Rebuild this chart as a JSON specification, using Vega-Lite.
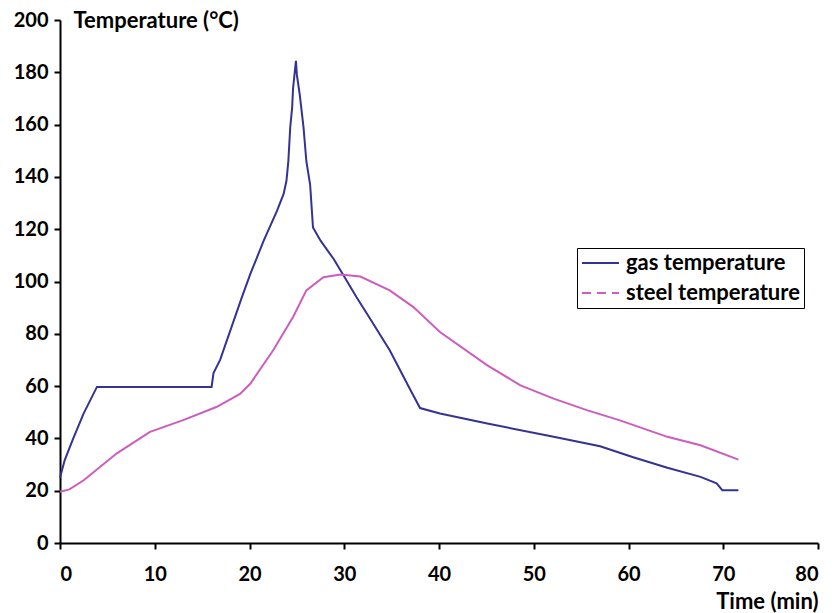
{
  "$schema": "https://vega.github.io/schema/vega-lite/v6.json",
  "width": 758,
  "height": 523,
  "autosize": {"type": "none"},
  "padding": {"left": 60, "top": 20, "right": 19, "bottom": 70},
  "background": "white",
  "config": {
    "view": {"stroke": null},
    "font": "Lato",
    "axis": {
      "grid": false,
      "domainColor": "black",
      "domainWidth": 2,
      "tickColor": "black",
      "tickWidth": 2,
      "tickSize": 6,
      "labelFont": "Lato",
      "labelFontWeight": "bold",
      "labelFontSize": 20,
      "labelColor": "black",
      "titleFont": "Lato",
      "titleFontWeight": "bold",
      "titleFontSize": 22,
      "titleColor": "black"
    }
  },
  "data": {
    "values": [
      {"series": "gas temperature", "time": 0, "temp": 25},
      {"series": "gas temperature", "time": 0.5, "temp": 31.7},
      {"series": "gas temperature", "time": 1.4, "temp": 40},
      {"series": "gas temperature", "time": 2.5, "temp": 49.6},
      {"series": "gas temperature", "time": 3.9, "temp": 59.7},
      {"series": "gas temperature", "time": 16, "temp": 59.7},
      {"series": "gas temperature", "time": 16.2, "temp": 65},
      {"series": "gas temperature", "time": 16.9, "temp": 70},
      {"series": "gas temperature", "time": 19.2, "temp": 94},
      {"series": "gas temperature", "time": 20.1, "temp": 103},
      {"series": "gas temperature", "time": 21.5, "temp": 115.6},
      {"series": "gas temperature", "time": 22.9, "temp": 127},
      {"series": "gas temperature", "time": 23.6, "temp": 133.5},
      {"series": "gas temperature", "time": 23.9, "temp": 138.5},
      {"series": "gas temperature", "time": 24.1, "temp": 146},
      {"series": "gas temperature", "time": 24.3, "temp": 159},
      {"series": "gas temperature", "time": 24.5, "temp": 166.5},
      {"series": "gas temperature", "time": 24.6, "temp": 174},
      {"series": "gas temperature", "time": 24.9, "temp": 184.4},
      {"series": "gas temperature", "time": 25, "temp": 179},
      {"series": "gas temperature", "time": 25.3, "temp": 171.6},
      {"series": "gas temperature", "time": 25.7, "temp": 159},
      {"series": "gas temperature", "time": 26, "temp": 146},
      {"series": "gas temperature", "time": 26.4, "temp": 137},
      {"series": "gas temperature", "time": 26.7, "temp": 120.7},
      {"series": "gas temperature", "time": 27.5, "temp": 115.6},
      {"series": "gas temperature", "time": 28.9, "temp": 108.5},
      {"series": "gas temperature", "time": 29.9, "temp": 102.5},
      {"series": "gas temperature", "time": 31.3, "temp": 94},
      {"series": "gas temperature", "time": 32.4, "temp": 87.7},
      {"series": "gas temperature", "time": 34.8, "temp": 73.7},
      {"series": "gas temperature", "time": 37, "temp": 58.4},
      {"series": "gas temperature", "time": 38, "temp": 51.6},
      {"series": "gas temperature", "time": 40.1, "temp": 49.5},
      {"series": "gas temperature", "time": 45.1, "temp": 45.7},
      {"series": "gas temperature", "time": 52.1, "temp": 40.6},
      {"series": "gas temperature", "time": 57, "temp": 37},
      {"series": "gas temperature", "time": 60.5, "temp": 32.8},
      {"series": "gas temperature", "time": 64.1, "temp": 28.8},
      {"series": "gas temperature", "time": 67.6, "temp": 25.3},
      {"series": "gas temperature", "time": 69.3, "temp": 22.8},
      {"series": "gas temperature", "time": 69.9, "temp": 20.2},
      {"series": "gas temperature", "time": 71.6, "temp": 20.2},
      {"series": "steel temperature", "time": 0, "temp": 19.6},
      {"series": "steel temperature", "time": 1, "temp": 20.5},
      {"series": "steel temperature", "time": 2.5, "temp": 24},
      {"series": "steel temperature", "time": 6, "temp": 34.3},
      {"series": "steel temperature", "time": 9.5, "temp": 42.5},
      {"series": "steel temperature", "time": 13, "temp": 47},
      {"series": "steel temperature", "time": 16.5, "temp": 52},
      {"series": "steel temperature", "time": 19, "temp": 57},
      {"series": "steel temperature", "time": 20.1, "temp": 61},
      {"series": "steel temperature", "time": 22.5, "temp": 73.7},
      {"series": "steel temperature", "time": 24.6, "temp": 86.4},
      {"series": "steel temperature", "time": 26, "temp": 96.6},
      {"series": "steel temperature", "time": 27.8, "temp": 101.6},
      {"series": "steel temperature", "time": 29.6, "temp": 102.7},
      {"series": "steel temperature", "time": 31.7, "temp": 101.9},
      {"series": "steel temperature", "time": 34.8, "temp": 96.6},
      {"series": "steel temperature", "time": 37.3, "temp": 90.2},
      {"series": "steel temperature", "time": 40.1, "temp": 80.7},
      {"series": "steel temperature", "time": 45.1, "temp": 67.9},
      {"series": "steel temperature", "time": 48.6, "temp": 60.3},
      {"series": "steel temperature", "time": 52.1, "temp": 55.2},
      {"series": "steel temperature", "time": 55.6, "temp": 50.8},
      {"series": "steel temperature", "time": 59.1, "temp": 46.9},
      {"series": "steel temperature", "time": 64.1, "temp": 40.6},
      {"series": "steel temperature", "time": 67.6, "temp": 37.4},
      {"series": "steel temperature", "time": 71.6, "temp": 31.9}
    ]
  },
  "mark": {"type": "line", "strokeWidth": 2, "interpolate": "linear"},
  "encoding": {
    "x": {
      "field": "time", "type": "quantitative",
      "scale": {"domain": [0, 80], "nice": false, "zero": false},
      "axis": {
        "values": [0, 10, 20, 30, 40, 50, 60, 70, 80],
        "title": "Time (min)",
        "labelPadding": 15,
        "titleAnchor": "end",
        "titleAlign": "right",
        "titleX": 758,
        "titleY": 58,
        "titleBaseline": "middle"
      }
    },
    "y": {
      "field": "temp", "type": "quantitative",
      "scale": {"domain": [0, 200], "nice": false},
      "axis": {
        "values": [0, 20, 40, 60, 80, 100, 120, 140, 160, 180, 200],
        "title": "Temperature (°C)",
        "labelPadding": 6,
        "titleAngle": 0,
        "titleAlign": "left",
        "titleAnchor": "start",
        "titleX": 13,
        "titleY": 0,
        "titleBaseline": "middle"
      }
    },
    "color": {
      "field": "series", "type": "nominal",
      "scale": {"domain": ["gas temperature", "steel temperature"], "range": ["#333391", "#CC5DBE"]},
      "legend": {
        "title": null,
        "orient": "none",
        "legendX": 517,
        "legendY": 228,
        "strokeColor": "black",
        "fillColor": "white",
        "padding": 4,
        "symbolType": "M-1,0H2.7",
        "symbolSize": 400,
        "symbolStrokeWidth": 2,
        "labelFont": "Lato",
        "labelFontWeight": "bold",
        "labelFontSize": 22,
        "labelColor": "black",
        "labelOffset": 23,
        "labelLimit": 400,
        "rowPadding": 8,
        "encode": {
          "symbols": {
            "update": {
              "strokeDash": {"signal": "datum.value === 'steel temperature' ? [9, 6] : [1, 0]"}
            }
          }
        }
      }
    }
  }
}
